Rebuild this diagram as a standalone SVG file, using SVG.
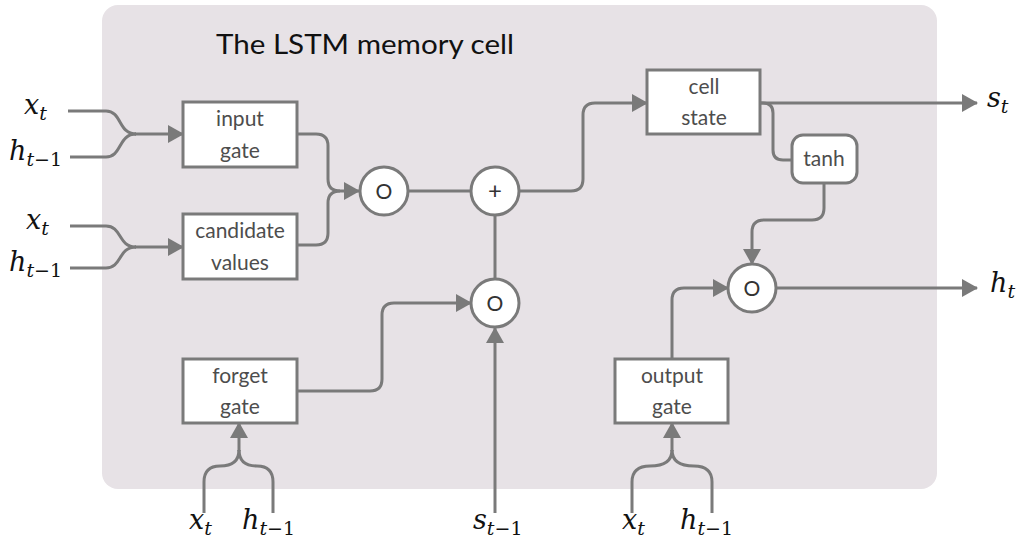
<svg xmlns="http://www.w3.org/2000/svg" width="1017" height="546" viewBox="0 0 1017 546">
  <style>
    .panel { fill: #e7e2e6; }
    .box { fill: #ffffff; stroke: #7a7a7a; stroke-width: 3; }
    .op { fill: #ffffff; stroke: #7a7a7a; stroke-width: 3; }
    .wire { fill: none; stroke: #7a7a7a; stroke-width: 3; }
    .lbl { font-family: Lato, "Open Sans", sans-serif; font-size: 21px; fill: #4d4d4d; text-anchor: middle; }
    .opl { font-family: Lato, "Open Sans", sans-serif; font-size: 21px; fill: #333333; text-anchor: middle; }
    .title { font-family: Lato, "Open Sans", sans-serif; font-size: 27px; fill: #111111; }
    .math { font-family: "DejaVu Serif", "Liberation Serif", "Noto Serif", serif; font-style: italic; font-size: 27px; fill: #111111; }
    .math .s { font-size: 19px; }
    .math .n { font-size: 19px; font-style: normal; }
  </style>
  <defs>
    <marker id="arrow" markerUnits="userSpaceOnUse" markerWidth="16" markerHeight="18" refX="15" refY="9" orient="auto">
      <path d="M0,0 L16,9 L0,18 Z" fill="#7a7a7a"/>
    </marker>
  </defs>

  <!-- cell background -->
  <rect class="panel" x="102" y="5" width="835" height="484" rx="16"/>
  <text class="title" x="216" y="54" textLength="298" lengthAdjust="spacingAndGlyphs">The LSTM memory cell</text>

  <!-- connectors -->
  <g id="connectors">
    <path class="wire" d="M68 111 H106 C122 111 118 134 136 134"/>
    <path class="wire" d="M70 157 H106 C122 157 118 134 136 134"/>
    <path class="wire" d="M135 134 H183" marker-end="url(#arrow)"/>

    <path class="wire" d="M70 226 H106 C122 226 118 247 136 247"/>
    <path class="wire" d="M70 268 H106 C122 268 118 247 136 247"/>
    <path class="wire" d="M135 247 H183" marker-end="url(#arrow)"/>

    <path class="wire" d="M297 134 H316 Q328 134 328 146 V179 Q328 191 340 191 H359" marker-end="url(#arrow)"/>
    <path class="wire" d="M297 245 H316 Q328 245 328 233 V203 Q328 191 340 191"/>

    <path class="wire" d="M408 191 H471"/>
    <path class="wire" d="M520 191 H571 Q583 191 583 179 V115 Q583 103 595 103 H647" marker-end="url(#arrow)"/>

    <path class="wire" d="M297 391 H370 Q382 391 382 379 V315 Q382 303 394 303 H471" marker-end="url(#arrow)"/>
    <path class="wire" d="M495 279 V216"/>
    <path class="wire" d="M495 513 V328" marker-end="url(#arrow)"/>

    <path class="wire" d="M204 513 V482 Q204 466 220 466 Q239 466 239 450"/>
    <path class="wire" d="M273 513 V482 Q273 466 257 466 Q239 466 239 450"/>
    <path class="wire" d="M239 451 V423" marker-end="url(#arrow)"/>

    <path class="wire" d="M632 513 V482 Q632 466 650 466 Q672 466 672 450"/>
    <path class="wire" d="M712 513 V482 Q712 466 694 466 Q672 466 672 450"/>
    <path class="wire" d="M672 451 V423" marker-end="url(#arrow)"/>

    <path class="wire" d="M672 358 V300 Q672 288 684 288 H728" marker-end="url(#arrow)"/>
    <path class="wire" d="M760 103 H977" marker-end="url(#arrow)"/>
    <path class="wire" d="M760 103 H763 Q773 103 773 113 V150 Q773 160 783 160 H792"/>
    <path class="wire" d="M824 183 V208 Q824 220 812 220 H764 Q752 220 752 232 V264" marker-end="url(#arrow)"/>
    <path class="wire" d="M776 288 H977" marker-end="url(#arrow)"/>
  </g>

  <!-- gates -->
  <g id="input-gate">
    <rect class="box" x="183" y="102" width="114" height="65"/>
    <text class="lbl" x="240" y="126">input</text>
    <text class="lbl" x="240" y="158">gate</text>
  </g>
  <g id="candidate-values">
    <rect class="box" x="183" y="214" width="114" height="65"/>
    <text class="lbl" x="240" y="238">candidate</text>
    <text class="lbl" x="240" y="270">values</text>
  </g>
  <g id="forget-gate">
    <rect class="box" x="183" y="359" width="114" height="64"/>
    <text class="lbl" x="240" y="383">forget</text>
    <text class="lbl" x="240" y="414">gate</text>
  </g>
  <g id="output-gate">
    <rect class="box" x="615" y="359" width="113" height="64"/>
    <text class="lbl" x="672" y="383">output</text>
    <text class="lbl" x="672" y="414">gate</text>
  </g>
  <g id="cell-state">
    <rect class="box" x="647" y="70" width="113" height="64"/>
    <text class="lbl" x="704" y="94">cell</text>
    <text class="lbl" x="704" y="125">state</text>
  </g>
  <g id="tanh">
    <rect class="box" x="792" y="135" width="65" height="48" rx="11"/>
    <text class="lbl" x="824" y="166">tanh</text>
  </g>

  <!-- pointwise operations -->
  <g id="mul-input">
    <circle class="op" cx="384" cy="191" r="24"/>
    <text class="opl" x="384" y="199">O</text>
  </g>
  <g id="add-state">
    <circle class="op" cx="495" cy="191" r="24"/>
    <text class="opl" x="495" y="199" style="font-size:24px">+</text>
  </g>
  <g id="mul-forget">
    <circle class="op" cx="495" cy="303" r="24"/>
    <text class="opl" x="495" y="311">O</text>
  </g>
  <g id="mul-output">
    <circle class="op" cx="752" cy="288" r="24"/>
    <text class="opl" x="752" y="296">O</text>
  </g>

  <!-- signal labels: italic serif variables with subscripts -->
  <g id="labels">
    <text class="math" x="24" y="114">x<tspan class="s" dy="6">t</tspan></text>
    <text class="math" x="9" y="160">h<tspan class="s" dy="6">t</tspan><tspan class="n">−1</tspan></text>
    <text class="math" x="26" y="229">x<tspan class="s" dy="6">t</tspan></text>
    <text class="math" x="9" y="271">h<tspan class="s" dy="6">t</tspan><tspan class="n">−1</tspan></text>

    <text class="math" x="189" y="529">x<tspan class="s" dy="6">t</tspan></text>
    <text class="math" x="242" y="529">h<tspan class="s" dy="6">t</tspan><tspan class="n">−1</tspan></text>
    <text class="math" x="473" y="529">s<tspan class="s" dy="6">t</tspan><tspan class="n">−1</tspan></text>
    <text class="math" x="622" y="529">x<tspan class="s" dy="6">t</tspan></text>
    <text class="math" x="680" y="529">h<tspan class="s" dy="6">t</tspan><tspan class="n">−1</tspan></text>

    <text class="math" x="987" y="107">s<tspan class="s" dy="6">t</tspan></text>
    <text class="math" x="990" y="292">h<tspan class="s" dy="6">t</tspan></text>
  </g>
</svg>
